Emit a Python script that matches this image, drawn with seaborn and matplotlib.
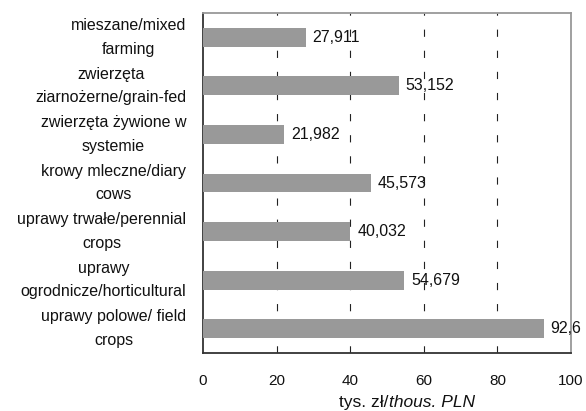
import matplotlib
matplotlib.use("Agg")
import matplotlib.pyplot as plt
import seaborn as sns
import pandas as pd

categories = [
    "mieszane/mixed\nfarming",
    "zwierzęta\nziarnożerne/grain-fed",
    "zwierzęta żywione w\nsystemie",
    "krowy mleczne/diary\ncows",
    "uprawy trwałe/perennial\ncrops",
    "uprawy\nogrodnicze/horticultural",
    "uprawy polowe/ field\ncrops",
]
values = [27.911, 53.152, 21.982, 45.573, 40.032, 54.679, 92.6]
value_labels = ["27,911", "53,152", "21,982", "45,573", "40,032", "54,679", "92,6"]
x_ticks = [0, 20, 40, 60, 80, 100]

sns.set_style("white")
plt.rcParams["font.family"] = ["Liberation Sans", "DejaVu Sans"]
plt.rcParams["font.size"] = 11

df = pd.DataFrame({"cat": categories, "val": values})

fig = plt.figure(figsize=(5.86, 4.11), dpi=100)
ax = fig.add_axes([203/586, 1 - 353/411, (571-203)/586, (353-13)/411])

sns.barplot(data=df, y="cat", x="val", orient="h", color="#999999",
            saturation=1, width=0.39, ax=ax, zorder=3)
for p in ax.patches:
    p.set_edgecolor("none")

ax.set_xlim(0, 100)
ax.set_ylim(6.5, -0.5)
ax.set_xticks(x_ticks)
ax.set_xticklabels([str(t) for t in x_ticks])

# vertical dashed gridlines
for t in x_ticks[1:-1]:
    ax.axvline(t, color="#222222", lw=0.8, dashes=(6.5, 12.5), zorder=1)

ax.bar_label(ax.containers[0], labels=value_labels, padding=5, fontsize=11.5, color="#111111")

ax.set_xlabel("")
ax.set_ylabel("")

# y ticks: labels centred, tick marks at category boundaries
ax.set_yticks(range(len(categories)))
ax.set_yticklabels(categories, multialignment="center", linespacing=1.72, va="center")
ax.tick_params(axis="y", which="major", length=0, pad=12, labelsize=11.5, labelcolor="#111111")
ax.set_yticks([i - 0.5 for i in range(len(categories) + 1)], minor=True)
ax.tick_params(axis="y", which="minor", length=5, width=1.0, direction="out", color="#333333")
ax.tick_params(axis="x", which="major", length=8.5, width=1.0, direction="inout",
               color="#333333", pad=11, labelsize=11, labelcolor="#111111")

for s in ["left", "bottom"]:
    ax.spines[s].set_color("#333333")
    ax.spines[s].set_linewidth(1.3)
for s in ["top", "right"]:
    ax.spines[s].set_visible(True)
    ax.spines[s].set_color("#999999")
    ax.spines[s].set_linewidth(1.3)

# x label: normal + italic parts, centred around x=407 px
fig.canvas.draw()
r = fig.canvas.get_renderer()
ypos = 1 - 402/411
t1 = fig.text(0, ypos, "tys. zł/", fontsize=12.5, va="center", ha="left", color="#111111")
t2 = fig.text(0, ypos, "thous. PLN", fontsize=12.5, style="italic", va="center", ha="left", color="#111111")
w1 = t1.get_window_extent(r).width
w2 = t2.get_window_extent(r).width
x0 = 407 - (w1 + w2) / 2
t1.set_x(x0 / fig.bbox.width)
t2.set_x((x0 + w1) / fig.bbox.width)

fig.savefig("out.png", dpi=100)
